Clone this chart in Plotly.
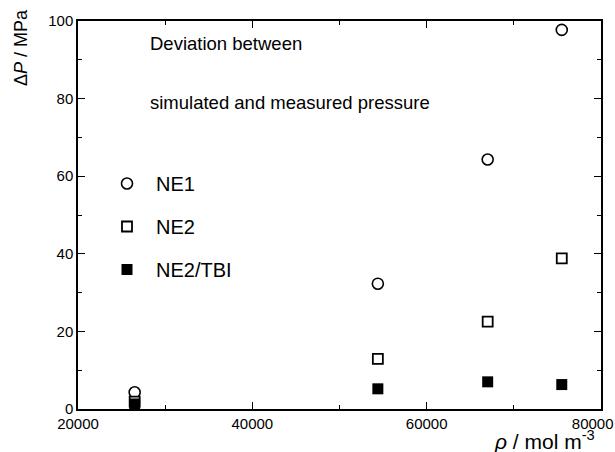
import plotly.graph_objects as go

density = [26500, 54400, 67000, 75500]
ne1 = [4.3, 32.3, 64.3, 97.7]
ne2 = [1.9, 12.9, 22.5, 38.8]
ne2_tbi = [1.3, 5.2, 7.0, 6.3]

x_ticks = [20000, 40000, 60000, 80000]
x_ticktext = ["20000", "40000", "60000", "80000\u00a0\u00a0\u00a0\u00a0"]
y_ticks = [0, 20, 40, 60, 80, 100]

FONT = "Liberation Sans, Arial, Helvetica, sans-serif"

fig = go.Figure()
fig.add_trace(go.Scatter(x=density, y=ne1, mode="markers", name="NE1", legendgroup="a",
                         marker=dict(symbol="circle-open", size=11, color="black", line=dict(width=1.6))))
fig.add_trace(go.Scatter(x=density, y=ne2, mode="markers", name="NE2", legendgroup="b",
                         marker=dict(symbol="square", size=10, color="white", line=dict(width=1.8, color="black"))))
fig.add_trace(go.Scatter(x=density, y=ne2_tbi, mode="markers", name="NE2/TBI", legendgroup="c",
                         marker=dict(symbol="square", size=11, color="black", line=dict(width=0))))

axis_common = dict(showgrid=False, zeroline=False, showline=True, linecolor="black", linewidth=1.5,
                   mirror="ticks", ticks="inside", ticklen=7, tickwidth=1.3, tickcolor="black",
                   tickfont=dict(family=FONT, size=15, color="black"), automargin=False)

fig.update_xaxes(range=[20000, 80000], tickvals=x_ticks, ticktext=x_ticktext, ticklabeloverflow="allow",
                 minor=dict(tickvals=[30000, 50000, 70000], ticks="inside", ticklen=4, tickcolor="black", tickwidth=1.2),
                 **axis_common)
fig.update_yaxes(range=[0, 100], tickvals=y_ticks,
                 minor=dict(tickvals=[10, 30, 50, 70, 90], ticks="inside", ticklen=4, tickcolor="black", tickwidth=1.2),
                 **axis_common)

fig.add_annotation(text="Deviation between", xref="paper", yref="paper", x=(148-78)/523, y=(409-43)/388,
                   xanchor="left", yanchor="middle", showarrow=False, font=dict(family=FONT, size=18.5, color="black"))
fig.add_annotation(text="simulated and measured pressure", xref="paper", yref="paper", x=(148-78)/523, y=(409-102)/388,
                   xanchor="left", yanchor="middle", showarrow=False, font=dict(family=FONT, size=18.5, color="black"))
fig.add_annotation(text="Δ<i>P</i> / MPa", xref="paper", yref="paper", x=(21-78)/523, y=(409-48)/388,
                   xanchor="center", yanchor="middle", textangle=-90, showarrow=False,
                   font=dict(family=FONT, size=18, color="black"))
fig.add_annotation(text="<i>ρ</i> / mol m<sup>-3</sup>", xref="paper", yref="paper", x=(597-78)/523, y=(409-440)/388,
                   xanchor="right", yanchor="middle", showarrow=False,
                   font=dict(family=FONT, size=21, color="black"))

fig.update_layout(
    width=615, height=452,
    margin=dict(l=78, r=14, t=21, b=43, autoexpand=False),
    paper_bgcolor="white", plot_bgcolor="white",
    showlegend=True,
    legend=dict(x=(98-78)/523, y=(409-164)/388, xanchor="left", yanchor="top",
                bgcolor="rgba(0,0,0,0)", font=dict(family=FONT, size=20, color="black"),
                tracegroupgap=14, itemwidth=48),
)

fig.write_html("out.html")
